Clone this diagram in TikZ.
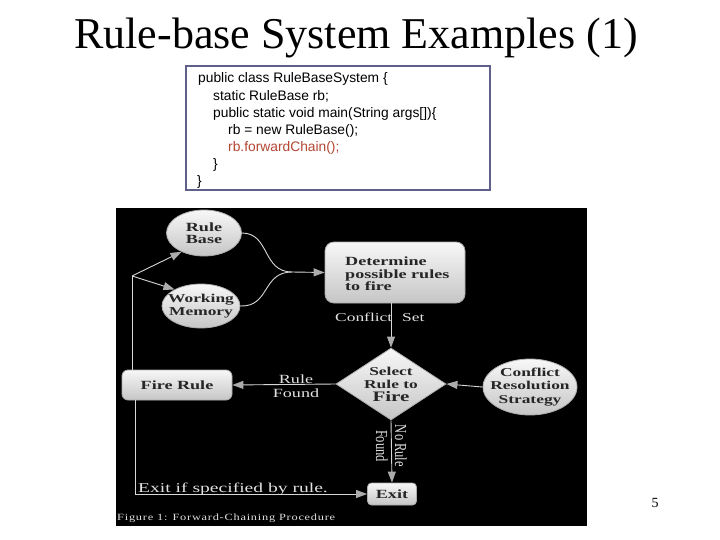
\documentclass[tikz,border=0pt]{standalone}
\usepackage{fontspec}
\setmainfont{Liberation Serif}
\newfontfamily\codefont{Liberation Sans}
\newfontfamily\figfont[FakeStretch=1.45]{Liberation Serif}
\newfontfamily\capfont[FakeStretch=1.3,LetterSpace=8]{Liberation Serif}
\usetikzlibrary{shapes.geometric,arrows.meta}
\definecolor{codered}{RGB}{180,70,50}
\definecolor{boxblue}{RGB}{95,95,140}
\definecolor{linegray}{RGB}{215,215,215}
\definecolor{txtgray}{RGB}{225,225,225}
\tikzset{
  nodefill/.style={top color=gray!6, bottom color=gray!45, draw=gray!65, line width=0.8pt},
  ntext/.style={font=\figfont\fontsize{12.5}{12.5}\selectfont\bfseries, text=black!85, align=center, inner sep=0},
  ell/.style={nodefill, ellipse, inner sep=0},
  rbox/.style={nodefill, rectangle, rounded corners=9pt, inner sep=0},
  dia/.style={nodefill, diamond, inner sep=0},
  lbl/.style={font=\figfont\fontsize{12.5}{12.5}\selectfont, text=txtgray, align=center, inner sep=0},
  wire/.style={draw=linegray, line width=0.9pt},
  arr/.style={wire, -{Triangle[length=11pt,width=8pt,fill=gray!65,color=gray!65]}},
  code/.style={font=\codefont\fontsize{13.8}{14}\selectfont, anchor=base west, inner sep=0}
}
\begin{document}
\begin{tikzpicture}[x=1pt,y=-1pt]
\useasboundingbox (0,0) rectangle (720,540);
\fill[white] (0,0) rectangle (720,540);
% title
\node[font=\fontsize{44}{44}\selectfont, anchor=base] (title) at (356,49) {Rule-base System Examples (1)};
% code box
\draw[boxblue, line width=1.5pt] (186,66) rectangle (490,190);
\node[code] (c1) at (198,83) {public class RuleBaseSystem \{};
\node[code] (c2) at (213,100.2) {static RuleBase rb;};
\node[code] (c3) at (213,117.4) {public static void main(String args[])\{};
\node[code] (c4) at (228,134.6) {rb = new RuleBase();};
\node[code, text=codered] (c5) at (228,151.8) {rb.forwardChain();};
\node[code] (c6) at (213,169) {\}};
\node[code] (c7) at (197,186) {\}};
% figure background
\fill[black] (116,208) rectangle (587,526);
% nodes
\node[ell, minimum width=75pt, minimum height=46pt] (rb) at (204,233) {};
\node[ntext] at (rb) {Rule\\Base};
\node[ell, minimum width=78pt, minimum height=44pt] (wm) at (201,306) {};
\node[ntext, font=\figfont\fontsize{12}{12.5}\selectfont\bfseries] at (wm) {Working\\Memory};
\node[rbox, minimum width=140pt, minimum height=61pt] (det) at (395,272.5) {};
\node[ntext, align=left, anchor=west] at (345,274) {Determine\\possible rules\\to fire};
\node[dia, minimum width=110pt, minimum height=72pt] (sel) at (391,384) {};
\node[ntext, font=\figfont\fontsize{12}{13}\selectfont\bfseries] at (sel) {Select\\Rule to\\{\fontsize{14.5}{13}\selectfont Fire}};
\node[ell, minimum width=94pt, minimum height=56pt] (crs) at (530,387) {};
\node[ntext, font=\figfont\fontsize{12}{13.5}\selectfont\bfseries] at (crs) {Conflict\\Resolution\\Strategy};
\node[rbox, minimum width=110pt, minimum height=30pt, rounded corners=6pt] (fr) at (177,385) {};
\node[ntext] at (fr) {Fire Rule};
\node[rbox, minimum width=49pt, minimum height=22pt, rounded corners=4pt] (ex) at (392,494) {};
\node[ntext] at (ex) {Exit};
% labels
\node[lbl, font=\figfont\fontsize{12}{12.5}\selectfont, anchor=west] (lcs) at (335,317) {Conflict\kern 10pt Set};
\node[lbl] (lrf) at (296,386) {Rule\\[1.5pt]Found};
\node[lbl, font=\figfont\fontsize{13.5}{14}\selectfont] (lex) at (233,489) {Exit if specified by rule.};
\node[lbl, font=\fontsize{12.5}{19}\selectfont, rotate=-90] (lnr) at (391.5,446) {\scalebox{1}[1.35]{No Rule}\\\scalebox{1}[1.35]{Found}};
\node[font=\capfont\fontsize{9.5}{12}\selectfont, text=txtgray, anchor=west, inner sep=0] (cap) at (117,518) {Figure 1: Forward-Chaining Procedure};
% connectors
\coordinate (merge) at (292,272);
\draw[wire] (rb.east) .. controls (270,233) and (262,272) .. (merge);
\draw[wire] (wm.east) .. controls (270,307) and (262,272) .. (merge);
\draw[arr] (merge) -- (det.west);
\draw[arr] (det.south -| sel.north) -- (sel.north);
\draw[arr] (crs.west) -- (sel.east);
\draw[arr] (sel.west) -- (fr.east);
\draw[arr] (sel.south) -- (ex.north);
\coordinate (split) at (132,276);
\draw[wire] (fr.north -| split) -- (split);
\draw[arr] (split) -- (rb.220);
\draw[arr] (split) -- (wm.148);
\coordinate (corner) at (135,494);
\draw[wire] (fr.south -| corner) -- (corner);
\draw[arr] (corner) -- (ex.west);
% page number
\node[font=\fontsize{14}{14}\selectfont] (pg) at (655,503) {5};
\end{tikzpicture}
\end{document}
